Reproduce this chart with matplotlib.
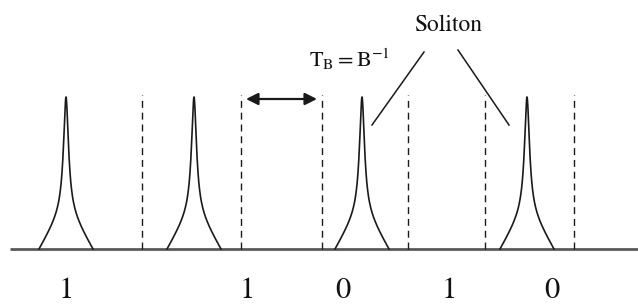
import numpy as np
import matplotlib.pyplot as plt

# diagram data (x in px along the time axis, height above the baseline)
pulse_centres = [66, 194, 362, 527]
pulse_height = 152
pulse_halfwidth = 27
slot_edges = [142, 241, 322, 408, 485, 574]
bit_labels = ['1', '1', '0', '1', '0']
bit_label_x = [66, 247, 343, 449, 552]

plt.rcParams['mathtext.fontset'] = 'stix'
serif = ['STIXGeneral', 'DejaVu Serif']

fig = plt.figure(figsize=(6.38, 3.04), dpi=100)
ax = fig.add_axes([0, 0, 1, 1])
ax.set_xlim(0, 638)
ax.set_ylim(-55, 249)
ax.axis('off')

# baseline
ax.plot([10, 638], [0, 0], color='#5a5a5a', lw=2.0, solid_capstyle='butt', zorder=1)

# soliton pulses: lorentzian core on a triangular foot
u = np.linspace(-pulse_halfwidth, pulse_halfwidth, 600)
core = 1 / (1 + (u / 3.0) ** 2)
foot = 1 - np.abs(u) / pulse_halfwidth
shape = 0.7 * core + 0.3 * foot
shape = shape - shape[0]
shape = shape / shape.max()
for c in pulse_centres:
    ax.plot(c + u, pulse_height * shape, color='#1a1a1a', lw=1.2, zorder=2)

# bit slot boundaries
for x in slot_edges:
    ax.plot([x, x], [0, 154], color='#1a1a1a', lw=1.0, dashes=(5, 3.5), zorder=2)

# bit period arrow
ax.annotate('', xy=(317, 150), xytext=(246, 150),
            arrowprops=dict(arrowstyle='<|-|>', color='#1a1a1a', lw=1.6,
                            mutation_scale=18, shrinkA=0, shrinkB=0))
ax.text(349, 190, r'$\mathrm{T_B = B^{-1}}$', fontsize=16, ha='center', va='center',
        color='#111111')

# soliton callout
ax.text(448, 224, 'Soliton', fontsize=17, family=serif, ha='center', va='center',
        color='#111111')
ax.plot([372, 424], [124, 197], color='#1a1a1a', lw=1.1)
ax.plot([458, 509], [199, 124], color='#1a1a1a', lw=1.1)

# bit values
for x, lab in zip(bit_label_x, bit_labels):
    ax.text(x, -42, lab, fontsize=22, family=serif, ha='center', va='center',
            color='#111111')

fig.savefig('out.png', dpi=100)
